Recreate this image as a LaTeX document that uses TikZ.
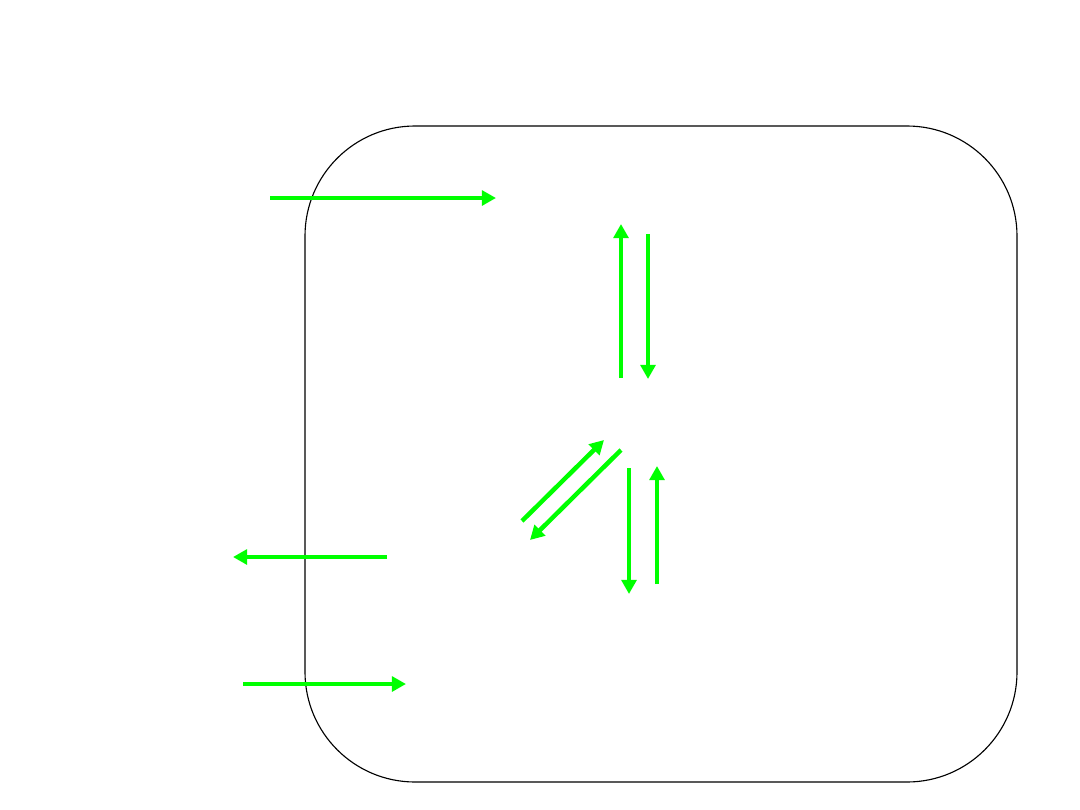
\documentclass[tikz,border=0pt]{standalone}
\usepackage{amsmath, amssymb, tikz}
\usetikzlibrary{arrows.meta}

\begin{document}
\begin{tikzpicture}[x=0.025cm, y=-0.025cm,
    flow/.style={->, >={Triangle[length=10pt,width=10.5pt]}, color=green, line width=3.2pt}]
    \useasboundingbox (0,0) rectangle (1080,810);
    \draw [line width=0.8pt, rounded corners=2.75cm] (305,126) rectangle (1017,782);
    \coordinate (inA) at (270,198);
    \coordinate (inB) at (496,198);
    \coordinate (upA) at (621,378);
    \coordinate (upB) at (621,224);
    \coordinate (dnA) at (648,234);
    \coordinate (dnB) at (648,379);
    \coordinate (dgA) at (522,521);
    \coordinate (dgB) at (604,440);
    \coordinate (dgC) at (621,450);
    \coordinate (dgD) at (530,540);
    \coordinate (lwA) at (629,468);
    \coordinate (lwB) at (629,594);
    \coordinate (lwC) at (657,584);
    \coordinate (lwD) at (657,466);
    \coordinate (outA) at (387,557);
    \coordinate (outB) at (233,557);
    \coordinate (botA) at (243,684);
    \coordinate (botB) at (406,684);
    \draw [flow] (inA) -- (inB);
    \draw [flow] (upA) -- (upB);
    \draw [flow] (dnA) -- (dnB);
    \draw [flow] (dgA) -- (dgB);
    \draw [flow] (dgC) -- (dgD);
    \draw [flow] (lwA) -- (lwB);
    \draw [flow] (lwC) -- (lwD);
    \draw [flow] (outA) -- (outB);
    \draw [flow] (botA) -- (botB);
\end{tikzpicture}
\end{document}
